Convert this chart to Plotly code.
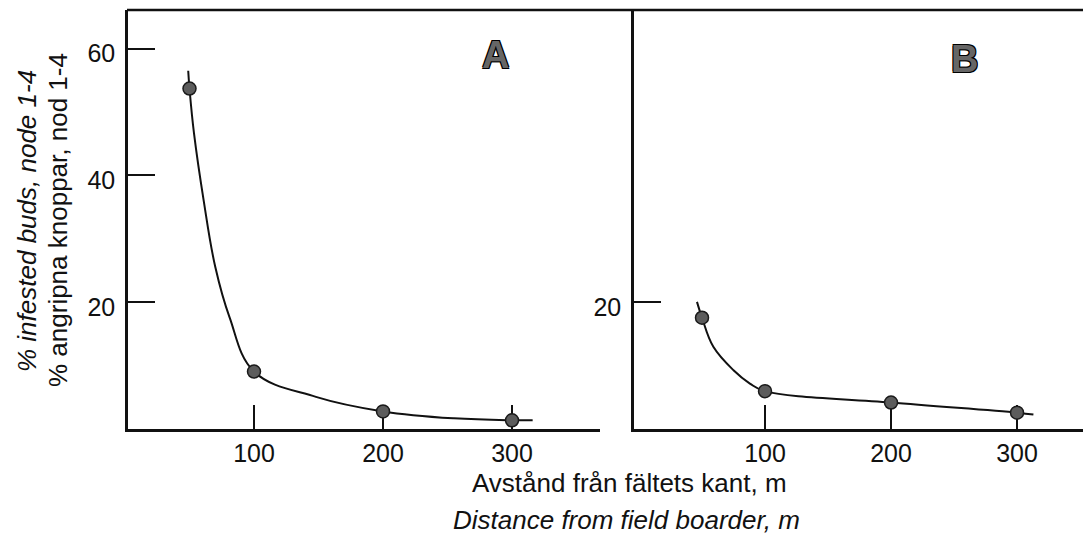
import plotly.graph_objects as go

# ---- data ----
distance = [50, 100, 200, 300]
infested_a = [53.7, 9.0, 2.7, 1.3]
infested_b = [17.5, 5.9, 4.1, 2.5]

curve_a_x = [49, 50, 53.5, 61, 70, 81, 100, 148, 200, 255, 300, 316]
curve_a_y = [56.5, 53.7, 46.6, 36.0, 25.5, 17.6, 9.0, 5.0, 2.7, 1.6, 1.3, 1.3]
curve_b_x = [46, 50, 59, 75, 88, 100, 200, 300, 313]
curve_b_y = [20.0, 17.5, 12.9, 9.2, 7.1, 5.9, 4.1, 2.5, 2.2]

x_ticks = [100, 200, 300]
x_tick_labels = ["100", "200", "300"]
y_ticks_a = [20, 40, 60]
y_ticks_b = [20]
panel_labels = ["A", "B"]

# the page body has an 8px margin; size the figure to fill the rest of the window
OFF = 8
W, H = 1091 - OFF, 535 - OFF
FONT = "Liberation Sans, Arial, Helvetica, sans-serif"
INK = "#111111"

def px_x(p):
    return (p - OFF) / W

def px_y(p):
    return (H - (p - OFF)) / H

fig = go.Figure()

line_style = dict(color=INK, width=2, shape="spline", smoothing=1.1)
marker_style = dict(size=13, color="#5c5c5c", line=dict(color="#1a1a1a", width=1.5))

fig.add_trace(go.Scatter(x=curve_a_x, y=curve_a_y, mode="lines", line=line_style,
                         xaxis="x", yaxis="y", hoverinfo="skip"))
fig.add_trace(go.Scatter(x=distance, y=infested_a, mode="markers", marker=marker_style,
                         xaxis="x", yaxis="y"))
fig.add_trace(go.Scatter(x=curve_b_x, y=curve_b_y, mode="lines", line=line_style,
                         xaxis="x2", yaxis="y2", hoverinfo="skip"))
fig.add_trace(go.Scatter(x=distance, y=infested_b, mode="markers", marker=marker_style,
                         xaxis="x2", yaxis="y2"))

tick_font = dict(family=FONT, size=25, color=INK)
y_dom = [px_y(428.5), px_y(10)]

common_x = dict(
    showline=True, linecolor=INK, linewidth=2.5,
    ticks="inside", ticklen=24, tickwidth=2, tickcolor=INK,
    tickvals=x_ticks, ticktext=x_tick_labels, tickfont=tick_font,
    ticklabelstandoff=1,
    showgrid=False, zeroline=False, layer="below traces",
)
common_y = dict(
    showline=True, linecolor=INK, linewidth=2.5,
    ticks="inside", ticklen=27, tickwidth=2, tickcolor=INK,
    tickfont=tick_font, ticklabelstandoff=5, ticklabelshift=5,
    showgrid=False, zeroline=False, layer="below traces",
    range=[0, 66.1], domain=y_dom,
)

fig.update_layout(
    width=W, height=H,
    margin=dict(l=0, r=0, t=0, b=0),
    paper_bgcolor="white", plot_bgcolor="white",
    showlegend=False,
    xaxis=dict(common_x, domain=[px_x(128), px_x(600)], range=[2.33, 368.2], anchor="y"),
    yaxis=dict(common_y, tickvals=y_ticks_a, anchor="x"),
    xaxis2=dict(common_x, domain=[px_x(634), 1.0], range=[-3.97, 358.7], anchor="y2"),
    yaxis2=dict(common_y, tickvals=y_ticks_b, anchor="x2"),
    shapes=[
        dict(type="line", xref="paper", yref="paper",
             x0=px_x(127), x1=1.0, y0=px_y(10), y1=px_y(10),
             line=dict(color=INK, width=2.5)),
    ],
)

title_font = dict(family=FONT, size=26, color=INK)
outline = "1px 1px 0 #000, -1px -1px 0 #000, 1px -1px 0 #000, -1px 1px 0 #000"
label_font = dict(family=FONT, size=38, color="#666666", weight=900, shadow=outline)

annotations = [
    dict(text="<i>% infested buds, node 1-4</i>", x=px_x(27), y=px_y(221),
         textangle=-90, font=title_font),
    dict(text="% angripna knoppar, nod 1-4", x=px_x(58), y=px_y(220),
         textangle=-90, font=title_font),
    dict(text="Avstånd från fältets kant, m", x=px_x(629), y=px_y(483), font=title_font),
    dict(text="<i>Distance from field boarder, m</i>", x=px_x(626), y=px_y(520), font=title_font),
    dict(text=panel_labels[0], x=px_x(495), y=px_y(54.5), font=label_font),
    dict(text=panel_labels[1], x=px_x(964), y=px_y(59), font=label_font),
]
for a in annotations:
    a.update(xref="paper", yref="paper", xanchor="center", yanchor="middle",
             showarrow=False, borderpad=0)
fig.update_layout(annotations=annotations)

fig.write_html("out.html")
